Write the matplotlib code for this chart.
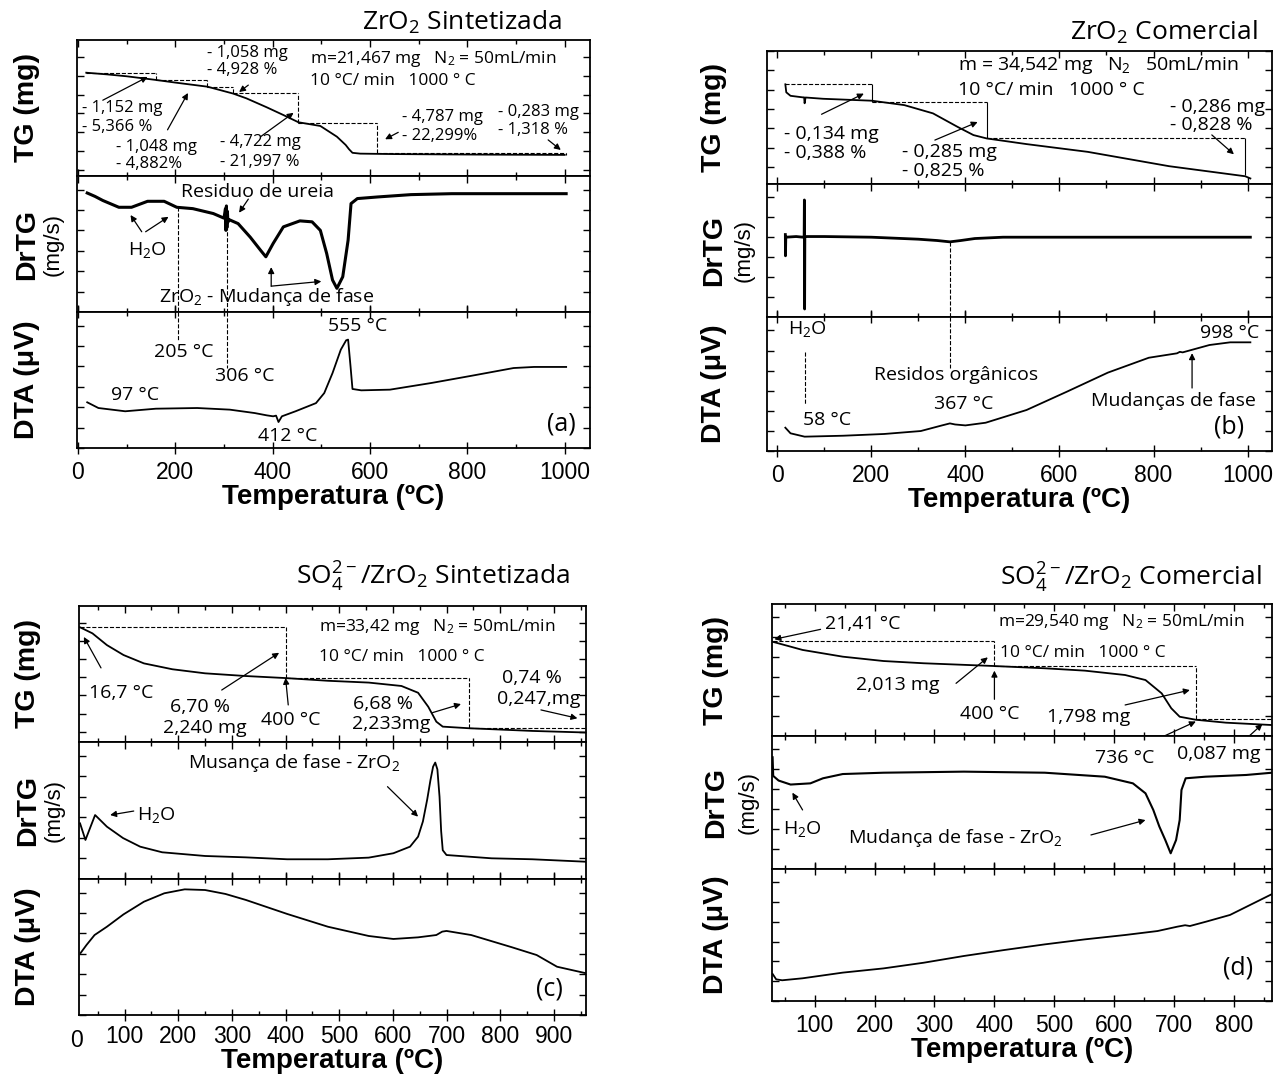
import matplotlib
matplotlib.use('Agg')
import matplotlib.pyplot as plt
from matplotlib.ticker import MultipleLocator, MaxNLocator

plt.rcParams['font.family'] = ['Open Sans', 'DejaVu Sans']
plt.rcParams['mathtext.default'] = 'regular'

TICK_FONT = ['Liberation Sans Narrow', 'Liberation Sans']
LABEL_FONT = ['Liberation Sans', 'DejaVu Sans']

# ---------------- (a) ZrO2 sintetizada ----------------
a_T_tg = [17, 60, 100, 160, 200, 266, 319, 346, 388, 422, 453, 498, 532, 550, 557, 564, 580, 650, 750, 850, 1000]
a_tg = [21.467, 21.20, 20.90, 20.32, 19.90, 19.25, 18.15, 17.40, 15.97, 14.75, 13.60, 13.01, 11.31, 10.0, 9.31,
        8.75, 8.62, 8.55, 8.50, 8.46, 8.42]
a_m0 = 21.467
a_step_T = [17, 160, 266, 319, 453, 614, 1003]
a_loss = [1.152, 1.048, 1.058, 4.722, 4.787, 0.283]

a_T_dtg = [19, 35, 51, 84, 110, 143, 177, 203, 236, 278, 300, 303, 304, 305, 306, 307, 308, 310, 329, 354, 376,
           386, 401, 422, 456, 481, 498, 511, 523, 532, 544, 555, 561, 574, 616, 684, 768, 852, 1003]
a_dtg = [87.5, 85, 82, 77, 77, 81.4, 81.4, 77, 76, 72.4, 69, 76, 60, 78, 62, 74, 66, 68, 65, 55, 45,
         40.6, 50.4, 62.6, 67, 66.3, 60, 43, 23.5, 17.4, 25.9, 52.8, 79.7, 83.4, 84.6, 86.3, 87, 87, 87]

a_T_dta = [19, 42, 97, 160, 245, 312, 363, 388, 401, 407, 412, 419, 447, 489, 506, 523, 540, 551, 555, 560, 564,
           582, 641, 726, 810, 895, 937, 1003]
a_dta = [33.6, 29.4, 27, 28.9, 29.4, 28.2, 25.7, 24, 23.3, 23.8, 19.1, 23.3, 27, 33, 40.4, 55.1, 72.3, 79.2,
         79.7, 60, 43.4, 42.4, 42.9, 47.8, 53.2, 58.8, 59.6, 59.6]

# ---------------- (b) ZrO2 comercial ----------------
b_T_tg = [17, 19, 28, 54, 57, 58, 60, 97, 201, 270, 331, 383, 417, 445, 530, 660, 833, 995, 1006]
b_tg = [34.542, 34.480, 34.453, 34.441, 34.441, 34.395, 34.440, 34.430, 34.415, 34.381, 34.317, 34.213, 34.149,
        34.123, 34.079, 34.019, 33.908, 33.830, 33.813]
b_m0 = 34.542
b_step_T = [17, 201, 445, 995]
b_loss = [0.134, 0.285, 0.286]

b_T_dtg = [17, 17.3, 18, 40, 55, 57, 57.5, 58, 58.5, 60, 100, 200, 300, 340, 367, 390, 420, 480, 600, 800, 1006]
b_dtg = [62, 46, 60, 60.5, 60, 60, 88, 6, 60, 60.5, 60.5, 60, 58.5, 57.5, 56.5, 57.5, 59, 60, 60, 60, 60]

b_T_dta = [17, 28, 58, 140, 227, 305, 348, 367, 378, 400, 443, 530, 616, 703, 790, 850, 856, 862, 919, 963, 1006]
b_dta = [17.4, 13.2, 10.7, 11.4, 12.7, 14.9, 18.9, 20.6, 19.8, 19.1, 21.1, 30.6, 44.3, 58.5, 69.6, 72.9, 74.0,
         73.6, 79.1, 81.1, 81.1]

# ---------------- (c) SO4/ZrO2 sintetizada ----------------
c_T_tg = [16.7, 40, 67, 98, 136, 189, 250, 326, 400, 479, 555, 616, 647, 666, 681, 693, 741, 860, 960]
c_tg = [33.42, 33.15, 32.63, 32.19, 31.82, 31.56, 31.38, 31.26, 31.17, 31.05, 30.97, 30.82, 30.52, 29.90, 29.24,
        29.02, 28.95, 28.83, 28.76]
c_m0 = 33.42
c_step_T = [16.7, 400, 741, 960]
c_loss = [2.240, 2.233]

c_T_dtg = [17, 27, 45, 67, 97, 129, 170, 250, 326, 403, 479, 555, 601, 632, 647, 656, 664, 670, 675, 679, 683,
           687, 690, 693, 700, 784, 860, 960]
c_dtg = [40.6, 28.5, 46.7, 38.2, 29.9, 23.6, 19.5, 16.8, 15.8, 14.4, 14.4, 15.6, 18.8, 23.6, 30.9, 42, 58, 72, 82,
         85, 80, 60, 35, 21, 17.5, 15.1, 14.4, 12.6]

c_T_dta = [18, 29, 44, 67, 98, 136, 174, 212, 250, 288, 326, 403, 479, 555, 601, 647, 681, 692, 700, 746, 822,
           868, 906, 960]
c_dta = [45.6, 51.5, 58.8, 64.9, 74, 83.3, 89.5, 92.4, 91.9, 89, 84.6, 74.3, 64.9, 58.1, 55.9, 57.1, 58.8, 61.3,
         61.8, 58.8, 49.8, 44.1, 35.5, 30.7]

# ---------------- (d) SO4/ZrO2 comercial ----------------
d_T_tg = [30, 80, 147, 215, 282, 400, 484, 551, 618, 652, 679, 695, 709, 736, 786, 863]
d_tg = [71.4, 65.2, 60.1, 56.8, 55.1, 53, 51.3, 49.5, 46.2, 42.4, 32.3, 21, 14.6, 12.3, 10.1, 8.3]
d_step_T = [30, 400, 736, 863]
d_step_lvl = [72.2, 53.0, 12.7]

d_T_dtg = [30, 31, 40, 60, 93, 114, 147, 215, 349, 484, 584, 631, 652, 665, 675, 685, 694, 703, 709, 712, 719,
           752, 820, 863]
d_dtg = [84, 70, 66.5, 63.5, 64.4, 68.2, 71.4, 72.4, 73.2, 72.4, 69.4, 64.4, 56.9, 44.4, 32, 21.8, 11.8, 21.8,
         36.8, 59.4, 68.2, 69.4, 70.7, 72.4]

d_T_dta = [30, 36, 46, 80, 147, 215, 282, 349, 416, 484, 551, 618, 672, 705, 718, 726, 753, 793, 863]
d_dta = [20.5, 16.4, 15.7, 17.2, 21.5, 24.7, 29, 34.1, 38.6, 42.9, 46.7, 50, 53, 56.3, 57.4, 56.8, 60.1, 65.2, 81]


def levels_from_loss(m0, losses):
    lv = [m0]
    for dm in losses:
        lv.append(lv[-1] - dm)
    return lv


W, H = 1275, 1077
fig = plt.figure(figsize=(W / 100, H / 100), dpi=100)


def make_panel(left, right, rows, xlim, major, minor, tick_pad=5):
    axes = []
    for i in range(3):
        ax = fig.add_axes([left / W, 1 - rows[i + 1] / H, (right - left) / W, (rows[i + 1] - rows[i]) / H])
        ax.set_xlim(*xlim)
        ax.xaxis.set_major_locator(MultipleLocator(major))
        ax.xaxis.set_minor_locator(MultipleLocator(minor))
        ax.yaxis.set_major_locator(MaxNLocator(8))
        ax.tick_params(which='both', direction='in', top=True, right=True, labelleft=False, width=1.0)
        ax.tick_params(which='major', length=5)
        ax.tick_params(which='minor', length=3)
        if i < 2:
            ax.tick_params(labelbottom=False)
        for s in ax.spines.values():
            s.set_linewidth(1.3)
        axes.append(ax)
    ax = axes[2]
    ax.tick_params(axis='x', which='major', direction='inout', length=9, labelsize=16.5, pad=tick_pad,
                   labelfontfamily=TICK_FONT)
    ax.set_xlabel('Temperatura (ºC)', fontsize=20, fontweight='bold', family=TICK_FONT, labelpad=0)
    return axes


def side_labels(axes, x_bold, x_sub):
    cy = [(a.get_position().y0 + a.get_position().y1) / 2 for a in axes]
    kw = dict(rotation=90, ha='center', va='center', family=LABEL_FONT)
    fig.text(x_bold / W, cy[0], 'TG (mg)', fontsize=20.5, fontweight='bold', **kw)
    fig.text(x_bold / W, cy[1], 'DrTG', fontsize=20.5, fontweight='bold', **kw)
    fig.text(x_sub / W, cy[1], '(mg/s)', fontsize=16, **kw)
    fig.text(x_bold / W, cy[2], 'DTA (μV)', fontsize=20.5, fontweight='bold', **kw)


def steps(ax, T, lv, vstyle='--'):
    ax.hlines(lv[:len(T) - 1], T[:-1], T[1:], colors='k', linestyles='--', lw=0.8)
    n = len(lv) - 1
    ax.vlines(T[1:n + 1], lv[1:], lv[:-1], colors='k', linestyles=vstyle, lw=0.8)


def arrow(ax, x0, y0, x1, y1):
    ax.annotate('', xy=(x1, y1), xytext=(x0, y0), annotation_clip=False,
                arrowprops=dict(arrowstyle='-|>', color='k', lw=0.9, mutation_scale=9, shrinkA=0, shrinkB=0))


def vdash(ax, x, y0, y1):
    ax.plot([x, x], [y0, y1], color='k', ls='--', lw=0.8)


SM, MD, TITLE, TAG = 12, 14, 19, 18

# ===== panel (a) =====
ta, da, ea = make_panel(77, 590, [40, 176, 312, 448], (-2, 1052), 200, 100)
side_labels([ta, da, ea], 27, 53)
fig.text(562 / W, 1 - 22 / H, 'ZrO$_2$ Sintetizada', ha='right', va='center', fontsize=TITLE)

ta.set_ylim(5.07, 26.66)
ta.plot(a_T_tg, a_tg, color='k', lw=1.3)
steps(ta, a_step_T, levels_from_loss(a_m0, a_loss))
for x, y, s in [(266, 24.6, '- 1,058 mg'), (266, 21.9, '- 4,928 %'),
                (8, 15.9, '- 1,152 mg'), (8, 12.85, '- 5,366 %'),
                (78, 9.7, '- 1,048 mg'), (78, 7.0, '- 4,882%'),
                (291, 10.5, '- 4,722 mg'), (291, 7.3, '- 21,997 %'),
                (665, 14.4, '- 4,787 mg'), (665, 11.4, '- 22,299%'),
                (862, 15.2, '- 0,283 mg'), (862, 12.4, '- 1,318 %')]:
    ta.text(x, y, s, fontsize=SM, ha='left', va='center')
ta.text(477, 23.6, 'm=21,467 mg   N$_2$ = 50mL/min', fontsize=12.5, va='center')
ta.text(477, 20.2, '10 °C/ min   1000 ° C', fontsize=12.5, va='center')
arrow(ta, 51, 17.1, 143, 20.8)
arrow(ta, 184, 12.4, 226, 18.25)
arrow(ta, 350, 19.5, 331, 18.4)
arrow(ta, 375, 11.3, 443, 15.1)
arrow(ta, 658, 12.0, 631, 10.9)
arrow(ta, 966, 10.8, 992, 9.2)

da.set_ylim(0, 100)
da.plot(a_T_dtg, a_dtg, color='k', lw=2.2)
vdash(da, 205, 77, 0)
vdash(da, 306, 68, 0)
da.text(211, 88, 'Residuo de ureia', fontsize=MD, va='center')
arrow(da, 350, 83, 331, 73)
da.text(143, 45.6, 'H$_2$O', fontsize=MD, ha='center', va='center')
arrow(da, 131, 59, 108, 71.3)
arrow(da, 139, 59, 186, 70)
da.text(167, 11, 'ZrO$_2$ - Mudança de fase', fontsize=MD, va='center')
arrow(da, 397, 19, 397, 33)
arrow(da, 397, 19, 500, 22.5)

ea.set_ylim(0, 100)
ea.plot(a_T_dta, a_dta, color='k', lw=1.3)
vdash(ea, 205, 100, 79)
vdash(ea, 306, 100, 59)
for x, y, s in [(574, 89.7, '555 °C'), (217, 70.8, '205 °C'), (342, 53, '306 °C'),
                (118, 39, '97 °C'), (430, 8.8, '412 °C')]:
    ea.text(x, y, s, fontsize=MD, ha='center', va='center')
ea.text(993, 18, '(a)', fontsize=TAG, ha='center', va='center')

# ===== panel (b) =====
tb, db, eb = make_panel(767, 1272, [51, 184, 317, 451], (-22, 1052), 200, 100)
side_labels([tb, db, eb], 714, 744)
fig.text(1258 / W, 1 - 32 / H, 'ZrO$_2$ Comercial', ha='right', va='center', fontsize=TITLE)

tb.set_ylim(33.77, 34.80)
tb.plot(b_T_tg, b_tg, color='k', lw=1.3)
steps(tb, b_step_T, levels_from_loss(b_m0, b_loss), vstyle='-')
tb.text(385, 34.69, 'm = 34,542 mg   N$_2$   50mL/min', fontsize=MD, va='center')
tb.text(385, 34.50, '10 °C/ min   1000 ° C', fontsize=MD, va='center')
for x, y, s in [(15, 34.16, '- 0,134 mg'), (15, 34.01, '- 0,388 %'),
                (266, 34.02, '- 0,285 mg'), (266, 33.87, '- 0,825 %'),
                (835, 34.37, '- 0,286 mg'), (835, 34.23, '- 0,828 %')]:
    tb.text(x, y, s, fontsize=MD, va='center')
arrow(tb, 94, 34.31, 184, 34.47)
arrow(tb, 335, 34.11, 426, 34.25)
arrow(tb, 924, 34.15, 971, 34.0)

db.set_ylim(0, 100)
db.plot(b_T_dtg, b_dtg, color='k', lw=2.0)
vdash(db, 367, 56.5, 0)

eb.set_ylim(0, 100)
eb.plot(b_T_dta, b_dta, color='k', lw=1.3)
vdash(eb, 367, 100, 62)
vdash(eb, 58, 74, 34)
for x, y, s in [(381, 56.7, 'Residos orgânicos'), (64, 91, 'H$_2$O'), (106, 23, '58 °C'),
                (396, 35, '367 °C'), (961, 88, '998 °C'), (842, 37, 'Mudanças de fase')]:
    eb.text(x, y, s, fontsize=MD, ha='center', va='center')
eb.text(960, 18, '(b)', fontsize=TAG, ha='center', va='center')
arrow(eb, 882, 47, 882, 73)

# ===== panel (c) =====
tc, dc, ec = make_panel(79, 586, [606, 742, 879, 1015], (15, 960), 100, 50, tick_pad=3)
side_labels([tc, dc, ec], 28, 54)
fig.text(570 / W, 1 - 577 / H, 'SO$_4^{2-}$/ZrO$_2$ Sintetizada', ha='right', va='center', fontsize=TITLE)
ec.text(10, -0.19, '0', transform=ec.get_xaxis_transform(), fontsize=16.5, family=TICK_FONT,
        ha='center', va='center')

tc.set_ylim(28.34, 34.36)
tc.plot(c_T_tg, c_tg, color='k', lw=1.3)
steps(tc, c_step_T, levels_from_loss(c_m0, c_loss))
tc.text(462, 33.43, 'm=33,42 mg   N$_2$ = 50mL/min', fontsize=12.5, va='center')
tc.text(462, 32.10, '10 °C/ min   1000 ° C', fontsize=12.5, va='center')
tc.text(33, 30.51, '16,7 °C', fontsize=MD, va='center')
arrow(tc, 56, 31.62, 24, 32.99)
for x, y, s in [(240, 29.89, '6,70 %'), (250, 28.96, '2,240 mg'), (410, 29.32, '400 °C'),
                (582, 30.02, '6,68 %'), (597, 29.14, '2,233mg'),
                (860, 31.19, '0,74 %'), (872, 30.23, '0,247,mg')]:
    tc.text(x, y, s, fontsize=MD, ha='center', va='center')
arrow(tc, 281, 30.64, 388, 32.29)
arrow(tc, 405, 29.98, 400, 31.18)
arrow(tc, 674, 29.64, 727, 30.02)
arrow(tc, 876, 29.76, 944, 29.39)

dc.set_ylim(0, 100)
dc.plot(c_T_dtg, c_dtg, color='k', lw=1.3)
dc.text(218, 84.6, 'Musança de fase - ZrO$_2$', fontsize=MD, va='center')
arrow(dc, 590, 67.4, 647, 45.5)
dc.text(124, 46.7, 'H$_2$O', fontsize=MD, va='center')
arrow(dc, 117, 49.6, 73, 46.7)

ec.set_ylim(0, 100)
ec.plot(c_T_dta, c_dta, color='k', lw=1.3)
ec.text(891, 18.9, '(c)', fontsize=TAG, ha='center', va='center')

# ===== panel (d) =====
td, dd, ed = make_panel(772, 1272, [604, 736, 869, 1001], (29, 863), 100, 50)
side_labels([td, dd, ed], 716, 748)
fig.text(1262 / W, 1 - 578 / H, 'SO$_4^{2-}$/ZrO$_2$ Comercial', ha='right', va='center', fontsize=TITLE)

td.set_ylim(0, 100)
td.plot(d_T_tg, d_tg, color='k', lw=1.3)
steps(td, d_step_T, d_step_lvl)
td.text(117, 84.8, '21,41 °C', fontsize=MD, va='center')
arrow(td, 110, 80.8, 33, 73.3)
td.text(406, 86.6, 'm=29,540 mg   N$_2$ = 50mL/min', fontsize=12.5, va='center')
td.text(410, 62.6, '10 °C/ min   1000 ° C', fontsize=12.5, va='center')
for x, y, s in [(239, 38.6, '2,013 mg'), (393, 16.7, '400 °C'), (557, 14.6, '1,798 mg')]:
    td.text(x, y, s, fontsize=MD, ha='center', va='center')
arrow(td, 336, 39.9, 389, 59.6)
arrow(td, 400, 27.8, 400, 49.5)
arrow(td, 618, 23.5, 726, 34.8)
arrow(td, 658, -5.3, 736, 11)
arrow(td, 813, -5, 847, 9.1)

dd.set_ylim(0, 100)
dd.plot(d_T_dtg, d_dtg, color='k', lw=1.5)
for x, y, s in [(618, 83.2, '736 °C'), (774, 86.5, '0,087 mg'), (79, 30, 'H$_2$O')]:
    dd.text(x, y, s, fontsize=MD, ha='center', va='center')
arrow(dd, 80, 44.4, 63, 57.4)
dd.text(155, 23, 'Mudança de fase - ZrO$_2$', fontsize=MD, va='center')
arrow(dd, 561, 25.6, 652, 36.8)

ed.set_ylim(0, 100)
ed.plot(d_T_dta, d_dta, color='k', lw=1.3)
ed.text(806, 24.8, '(d)', fontsize=TAG, ha='center', va='center')

fig.savefig('out.png', dpi=100)
